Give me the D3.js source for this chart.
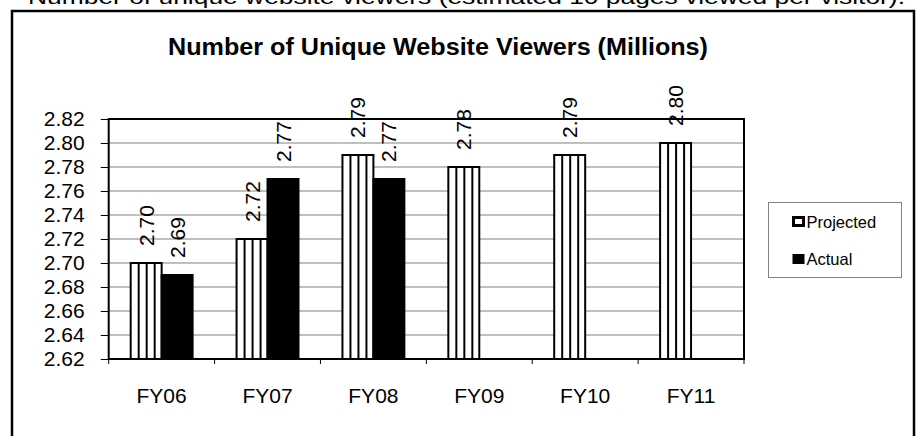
<!DOCTYPE html>
<html>
<head>
<meta charset="utf-8">
<script src="https://cdn.jsdelivr.net/npm/d3@7"></script>
<style>
  body { margin: 0; background: #fff; }
  svg text { font-family: Arial, "Liberation Sans", sans-serif; fill: #000; }
</style>
</head>
<body>
<svg id="canvas" width="917" height="436"></svg>
<script>
// chart data
let years = ['FY06', 'FY07', 'FY08', 'FY09', 'FY10', 'FY11']
let seriesNames = ['Projected', 'Actual']
let projected = [2.70, 2.72, 2.79, 2.78, 2.79, 2.80]
let actual = [2.69, 2.77, 2.77, null, null, null]
let yTicks = [2.62, 2.64, 2.66, 2.68, 2.70, 2.72, 2.74, 2.76, 2.78, 2.80, 2.82]

let svg = d3.select('#canvas')

let plotLeft = 108.7, plotRight = 744, plotTop = 119, plotBottom = 359

let x = d3.scaleBand().domain(years).range([plotLeft, plotRight])
let x1 = d3.scaleBand().domain(seriesNames).range([0, x.bandwidth()]).paddingOuter(0.71)
let y = d3.scaleLinear().domain([2.62, 2.82]).range([plotBottom, plotTop])

// caption above the chart, cut off by the page edge
svg.append('text')
  .attr('x', 28).attr('y', 4)
  .attr('font-size', 21)
  .attr('textLength', 877)
  .attr('lengthAdjust', 'spacingAndGlyphs')
  .text('Number of unique website viewers (estimated 10 pages viewed per visitor).')

// outer frame
svg.append('rect')
  .attr('x', 12).attr('y', 11)
  .attr('width', 902).attr('height', 440)
  .attr('fill', 'none').attr('stroke', '#000').attr('stroke-width', 2.5)

svg.append('text')
  .attr('x', 438).attr('y', 55)
  .attr('text-anchor', 'middle')
  .attr('font-size', 23).attr('font-weight', 'bold')
  .attr('textLength', 540)
  .attr('lengthAdjust', 'spacingAndGlyphs')
  .text('Number of Unique Website Viewers (Millions)')

// gridlines
svg.append('g')
  .selectAll('line')
  .data(yTicks.slice(1, -1))
  .enter()
  .append('line')
  .attr('x1', plotLeft).attr('x2', plotRight)
  .attr('y1', d => y(d)).attr('y2', d => y(d))
  .attr('stroke', '#808080').attr('stroke-width', 1)

// y axis
let yAxis = d3.axisLeft(y).tickValues(yTicks).tickFormat(d3.format('.2f')).tickSize(8).tickPadding(16)
let ya = svg.append('g').attr('transform', `translate(${plotLeft},0)`).call(yAxis)
ya.select('.domain').remove()
ya.selectAll('line').attr('stroke', '#000')
ya.selectAll('text').attr('font-size', 21).attr('font-family', 'Arial, "Liberation Sans", sans-serif')

// x axis ticks on category boundaries
svg.append('g')
  .selectAll('line')
  .data(years.concat(['end']))
  .enter()
  .append('line')
  .attr('x1', (d, i) => plotLeft + i * x.step())
  .attr('x2', (d, i) => plotLeft + i * x.step())
  .attr('y1', plotBottom).attr('y2', plotBottom + 5)
  .attr('stroke', '#000').attr('stroke-width', 1)

svg.append('g')
  .selectAll('text')
  .data(years)
  .enter()
  .append('text')
  .attr('x', d => x(d) + x.bandwidth() / 2)
  .attr('y', 403)
  .attr('text-anchor', 'middle')
  .attr('font-size', 21)
  .text(d => d)

// bars
let rows = []
years.forEach((yr, i) => {
  rows.push({ year: yr, series: 'Projected', value: projected[i] })
  if (actual[i] != null) rows.push({ year: yr, series: 'Actual', value: actual[i] })
})

let bars = svg.append('g')
bars.selectAll('rect')
  .data(rows)
  .enter()
  .append('rect')
  .attr('x', d => x(d.year) + x1(d.series))
  .attr('y', d => y(d.value))
  .attr('width', x1.bandwidth())
  .attr('height', d => plotBottom - y(d.value))
  .attr('fill', d => d.series == 'Actual' ? '#000' : '#fff')
  .attr('stroke', '#000').attr('stroke-width', 2)

// vertical stripes in projected bars
rows.filter(d => d.series == 'Projected').forEach(d => {
  let x0 = x(d.year) + x1(d.series)
  d3.range(8, x1.bandwidth() - 2, 8).forEach(off => {
    bars.append('line')
      .attr('x1', x0 + off).attr('x2', x0 + off)
      .attr('y1', y(d.value)).attr('y2', plotBottom)
      .attr('stroke', '#000').attr('stroke-width', 2)
  })
})

// plot frame
svg.append('rect')
  .attr('x', plotLeft).attr('y', plotTop)
  .attr('width', plotRight - plotLeft).attr('height', plotBottom - plotTop)
  .attr('fill', 'none').attr('stroke', '#000').attr('stroke-width', 2)

// value labels, rotated
svg.append('g')
  .selectAll('text')
  .data(rows)
  .enter()
  .append('text')
  .attr('transform', d => `translate(${x(d.year) + x1(d.series) + x1.bandwidth() / 2 + 7.5},${y(d.value) - 17}) rotate(-90)`)
  .attr('font-size', 21)
  .text(d => d.value.toFixed(2))

// legend
let lg = svg.append('g')
lg.append('rect')
  .attr('x', 768.5).attr('y', 202.5)
  .attr('width', 133).attr('height', 75)
  .attr('fill', '#fff').attr('stroke', '#808080').attr('stroke-width', 1)

let items = lg.selectAll('g.item')
  .data(seriesNames)
  .enter()
  .append('g')
  .attr('transform', (d, i) => `translate(0,${i * 37.5})`)

items.append('rect')
  .attr('x', d => d == 'Actual' ? 792.5 : 793.5)
  .attr('y', d => d == 'Actual' ? 216.5 : 217.5)
  .attr('width', d => d == 'Actual' ? 12 : 10)
  .attr('height', d => d == 'Actual' ? 10 : 8)
  .attr('fill', d => d == 'Actual' ? '#000' : '#fff')
  .attr('stroke', '#000').attr('stroke-width', d => d == 'Actual' ? 0 : 3)

items.append('text')
  .attr('x', 806.5).attr('y', 227.5)
  .attr('font-size', 16.5)
  .text(d => d)
</script>
</body>
</html>
